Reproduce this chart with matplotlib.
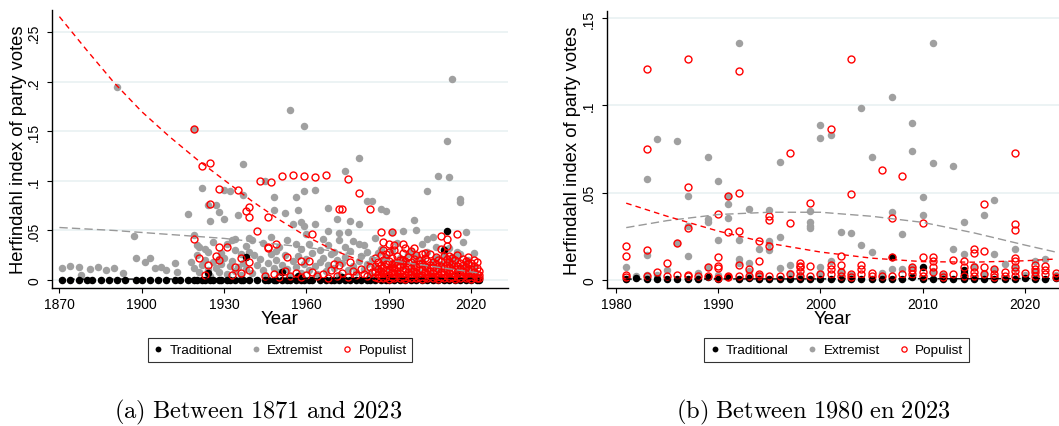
import matplotlib
matplotlib.use("Agg")
import matplotlib.pyplot as plt
from matplotlib.lines import Line2D

plt.rcParams['font.family'] = ['Liberation Sans', 'DejaVu Sans']

# ---------------- Panel (a): 1871-2023 ----------------
trad_a = [(1871,0),(1874,0),(1877,0),(1880,0),(1882,0),(1885,0),(1888,0),(1891,0),(1894,0),(1898,0),
          (1900,0),(1903,0),(1906,0),(1909,0),(1912,0),(1914,0),(1917,0),(1919,0),(1920,0),(1922,0),
          (1923,0),(1925,0),(1926,0),(1928,0),(1929,0),(1931,0),(1932,0),(1934,0),(1936,0),(1937,0),
          (1939,0),(1942,0),(1945,0),(1946,0),(1948,0),(1949,0),(1951,0),(1953,0),(1954,0),(1956,0),
          (1958,0),(1959,0),(1961,0),(1962,0),(1965,0),(1967,0),(1969,0),(1970,0),(1972,0),(1974,0),
          (1976,0),(1978,0),(1980,0),(1982,0),(1983,0),(1985,0),(1987,0),(1989,0),(1990,0),(1992,0),
          (1994,0),(1996,0),(1998,0),(2000,0),(2002,0),(2004,0),(2006,0),(2008,0),(2010,0),(2012,0),
          (2014,0),(2016,0),(2018,0),(2020,0),(2022,0),(2023,0),
          (1924,0.007),(1938,0.0235),(1951,0.008),(1957,0.004),(1973,0.003),(1990,0.003),(2000,0.004),
          (2010,0.030),(2011,0.049),(2015,0.005)]

ext_a = [(1871,0.012),(1874,0.0145),(1877,0.013),(1878,0.005),(1881,0.011),(1884,0.0135),(1887,0.010),
         (1890,0.012),(1891,0.195),(1893,0.0074),(1897,0.044),(1898,0.0225),(1901,0.0185),(1903,0.022),
         (1905,0.012),(1907,0.013),(1909,0.010),(1912,0.017),(1913,0.008),(1917,0.067),(1919,0.153),
         (1919,0.045),(1921,0.033),(1922,0.093),(1924,0.028),(1924,0.076),(1925,0.060),(1927,0.076),
         (1928,0.069),(1930,0.062),(1930,0.091),(1932,0.090),(1935,0.066),(1937,0.117),(1937,0.086),
         (1939,0.042),(1940,0.040),(1933,0.040),(1934,0.041),(1936,0.026),(1928,0.021),(1945,0.100),
         (1948,0.084),(1948,0.071),(1952,0.068),(1954,0.172),(1956,0.084),(1957,0.071),(1955,0.057),
         (1958,0.059),(1959,0.156),(1959,0.090),(1959,0.055),(1963,0.091),(1963,0.057),(1968,0.073),
         (1971,0.062),(1974,0.110),(1976,0.060),(1979,0.123),(1979,0.057),(1982,0.080),(1984,0.080),
         (1987,0.072),(1989,0.070),(1972,0.047),(1975,0.048),(1968,0.049),(1960,0.046),(1956,0.036),
         (1950,0.033),(1947,0.043),(1965,0.030),(1968,0.035),(1972,0.040),(1979,0.036),(1982,0.028),
         (1985,0.042),(1991,0.048),(1995,0.049),(1999,0.061),(2000,0.050),(2004,0.090),(2004,0.041),
         (2007,0.033),(2010,0.031),(2015,0.028),(2016,0.079),(2016,0.082),(2018,0.048),(2013,0.023),
         (2016,0.013),(2019,0.011),(2008,0.105),(2012,0.104),(2011,0.140),(2013,0.203),
         (1918,0.018),(1919,0.012),(1920,0.025),(1921,0.008),(1922,0.015),(1923,0.020),(1924,0.010),
         (1925,0.004),(1926,0.018),(1927,0.012),(1928,0.008),(1929,0.016),(1930,0.022),(1931,0.006),
         (1932,0.014),(1933,0.019),(1934,0.009),(1935,0.013),(1936,0.005),(1937,0.017),(1938,0.011),
         (1939,0.028),(1940,0.007),(1942,0.015),(1943,0.021),(1944,0.010),(1945,0.005),(1946,0.017),
         (1947,0.026),(1948,0.012),(1949,0.020),(1950,0.008),(1951,0.015),(1952,0.025),(1953,0.011),
         (1954,0.004),(1955,0.019),(1956,0.013),(1957,0.024),(1958,0.007),(1959,0.016),(1960,0.021),
         (1961,0.010),(1962,0.027),(1963,0.014),(1964,0.006),(1965,0.018),(1966,0.022),(1967,0.009),
         (1968,0.015),(1969,0.026),(1970,0.012),(1971,0.020),(1972,0.005),(1973,0.017),(1974,0.023),
         (1975,0.010),(1976,0.029),(1977,0.014),(1978,0.008),(1979,0.019),(1980,0.024),(1981,0.011),
         (1982,0.016),(1983,0.006),(1984,0.021),(1985,0.013),(1986,0.027),(1987,0.009),(1988,0.018),
         (1989,0.023),(1990,0.012),(1991,0.030),(1992,0.016),(1993,0.007),(1994,0.022),(1995,0.014),
         (1996,0.019),(1997,0.026),(1998,0.010),(1999,0.017),(2000,0.024),(2001,0.008),(2002,0.020),
         (2003,0.013),(2004,0.028),(2005,0.006),(2006,0.018),(2007,0.022),(2008,0.011),(2009,0.016),
         (2010,0.025),(2011,0.009),(2012,0.019),(2013,0.014),(2014,0.021),(2015,0.006),(2016,0.026),
         (2017,0.012),(2018,0.017),(2019,0.020),(2020,0.008),(2021,0.013),(2022,0.004),(2023,0.002),
         (1920,0.035),(1923,0.031),(1926,0.038),(1929,0.027),(1931,0.036),(1934,0.030),(1938,0.034),
         (1941,0.025),(1944,0.037),(1949,0.029),(1953,0.040),(1958,0.031),(1961,0.036),(1966,0.041),
         (1970,0.028),(1974,0.033),(1977,0.039),(1981,0.035),(1987,0.031),(1993,0.037),(1998,0.029),
         (2002,0.036),(2006,0.043),(2012,0.032),(2017,0.038),(2021,0.027)]

pop_a = [(1919,0.153),(1922,0.115),(1925,0.118),(1928,0.092),(1935,0.091),(1943,0.100),(1947,0.099),
         (1951,0.105),(1955,0.106),(1959,0.105),(1963,0.104),(1967,0.106),(1975,0.102),(1979,0.088),
         (1925,0.077),(1939,0.074),(1938,0.070),(1939,0.064),(1942,0.049),(1946,0.064),(1919,0.041),
         (1921,0.022),(1924,0.015),(1923,0.005),(1928,0.033),(1927,0.024),(1928,0.020),(1931,0.033),
         (1933,0.005),(1934,0.013),(1936,0.022),(1936,0.007),(1939,0.0185),(1939,0.010),(1945,0.004),
         (1946,0.033),(1972,0.072),(1973,0.072),(1983,0.072),(1962,0.046),(1949,0.036),(1946,0.032),
         (1953,0.023),(1958,0.0195),(1961,0.0195),(1970,0.016),(1972,0.015),(1976,0.0185),(1987,0.048),
         (1988,0.030),(1988,0.038),(1991,0.048),(1990,0.036),(1992,0.035),(1992,0.030),(1995,0.036),
         (1996,0.032),(1999,0.032),(2002,0.026),(2003,0.027),(2009,0.044),(2011,0.041),(2012,0.024),
         (2015,0.046),(2009,0.031),(2011,0.034),(2019,0.017),(1991,0.016),(1995,0.020),
         (1948,0.006),(1950,0.003),(1952,0.009),(1954,0.004),(1956,0.007),(1958,0.003),(1960,0.005),
         (1962,0.008),(1964,0.004),(1966,0.006),(1968,0.002),(1969,0.010),(1971,0.004),(1973,0.007),
         (1975,0.003),(1977,0.009),(1978,0.005),(1980,0.011),(1981,0.006),(1982,0.004),(1983,0.013),
         (1984,0.008),
         (1985,0.003),(1985,0.008),(1985,0.014),(1985,0.022),(1986,0.002),(1986,0.006),(1986,0.011),
         (1986,0.018),(1987,0.004),(1987,0.009),(1987,0.015),(1987,0.025),(1988,0.002),(1988,0.007),
         (1988,0.012),(1988,0.020),(1989,0.003),(1989,0.010),(1989,0.016),(1989,0.026),(1990,0.001),
         (1990,0.005),(1990,0.011),(1990,0.019),(1990,0.028),(1991,0.003),(1991,0.008),(1991,0.013),
         (1991,0.022),(1992,0.002),(1992,0.006),(1992,0.012),(1992,0.017),(1993,0.004),(1993,0.009),
         (1993,0.015),(1993,0.024),(1994,0.002),(1994,0.007),(1994,0.013),(1994,0.020),(1995,0.003),
         (1995,0.010),(1995,0.016),(1995,0.027),(1996,0.001),(1996,0.005),(1996,0.011),(1996,0.019),
         (1997,0.003),(1997,0.008),(1997,0.014),(1997,0.023),(1998,0.002),(1998,0.006),(1998,0.012),
         (1998,0.018),(1998,0.029),(1999,0.004),(1999,0.009),(1999,0.015),(1999,0.021),(2000,0.002),
         (2000,0.007),(2000,0.013),(2000,0.025),(2001,0.003),(2001,0.010),(2001,0.016),(2001,0.020),
         (2002,0.001),(2002,0.005),(2002,0.011),(2002,0.017),(2003,0.003),(2003,0.008),(2003,0.014),
         (2003,0.022),(2004,0.002),(2004,0.006),(2004,0.012),(2004,0.019),(2005,0.004),(2005,0.009),
         (2005,0.015),(2005,0.026),(2006,0.002),(2006,0.007),(2006,0.013),(2006,0.018),(2007,0.003),
         (2007,0.010),(2007,0.016),(2007,0.023),(2008,0.001),(2008,0.005),(2008,0.011),(2008,0.020),
         (2009,0.003),(2009,0.008),(2009,0.014),(2009,0.019),(2010,0.002),(2010,0.006),(2010,0.012),
         (2010,0.024),(2011,0.004),(2011,0.009),(2011,0.015),(2011,0.021),(2012,0.002),(2012,0.007),
         (2012,0.013),(2012,0.018),(2013,0.003),(2013,0.010),(2013,0.016),(2013,0.022),(2014,0.001),
         (2014,0.005),(2014,0.011),(2014,0.020),(2015,0.003),(2015,0.008),(2015,0.014),(2015,0.025),
         (2016,0.002),(2016,0.006),(2016,0.012),(2016,0.017),(2017,0.004),(2017,0.009),(2017,0.015),
         (2017,0.021),(2018,0.002),(2018,0.007),(2018,0.013),(2018,0.019),(2019,0.003),(2019,0.010),
         (2019,0.016),(2019,0.023),(2020,0.001),(2020,0.005),(2020,0.011),(2020,0.017),(2021,0.003),
         (2021,0.008),(2021,0.014),(2021,0.020),(2022,0.002),(2022,0.006),(2022,0.012),(2022,0.018),
         (2023,0.002),(2023,0.005),(2023,0.009)]

fit_years_a = [1870, 1880, 1890, 1900, 1910, 1920, 1930, 1940, 1950, 1960, 1970, 1980, 1990, 2000, 2010, 2023]
fit_pop_a   = [0.266, 0.232, 0.199, 0.170, 0.145, 0.122, 0.101, 0.080, 0.061, 0.044, 0.030, 0.019, 0.011, 0.006, 0.003, 0.002]
fit_ext_a   = [0.053, 0.0515, 0.050, 0.048, 0.046, 0.044, 0.042, 0.039, 0.036, 0.033, 0.029, 0.025, 0.020, 0.016, 0.012, 0.007]
fit_trad_a  = [0.0008, 0.0008, 0.0009, 0.0009, 0.0010, 0.0010, 0.0011, 0.0011, 0.0012, 0.0012, 0.0013, 0.0013, 0.0014, 0.0014, 0.0015, 0.0015]

# ---------------- Panel (b): 1980-2023 ----------------
trad_b = [(1981,0.0005),(1982,0.001),(1983,0.0005),(1984,0.0005),(1985,0.0005),(1986,0.0005),(1987,0.0005),
          (1988,0.0005),(1989,0.0015),(1990,0.0005),(1991,0.0015),(1992,0.0005),(1993,0.001),(1994,0.0005),
          (1995,0.0005),(1996,0.0005),(1997,0.0005),(1998,0.0005),(1999,0.0005),(2000,0.0005),(2001,0.0005),
          (2002,0.0005),(2003,0.0005),(2004,0.0005),(2005,0.0005),(2006,0.0005),(2007,0.0005),(2008,0.0005),
          (2009,0.0015),(2010,0.0005),(2011,0.0005),(2012,0.0005),(2013,0.0005),(2014,0.0005),(2015,0.0005),
          (2016,0.0005),(2017,0.0005),(2018,0.0005),(2019,0.0005),(2020,0.001),(2021,0.0005),(2022,0.0005),
          (2023,0.001),(2007,0.013),(2010,0.0073),(2014,0.0059),(2014,0.004)]

ext_b = [(1981,0.0073),(1981,0.0005),(1983,0.058),(1983,0.0143),(1983,0.003),(1984,0.0808),(1985,0.0059),
         (1986,0.0796),(1986,0.021),(1987,0.048),(1987,0.0139),(1987,0.031),(1989,0.0703),(1989,0.035),
         (1989,0.0334),(1989,0.0073),(1990,0.0567),(1990,0.0231),(1991,0.048),(1991,0.0435),(1991,0.0355),
         (1992,0.136),(1992,0.023),(1992,0.012),(1992,0.010),(1993,0.0405),(1993,0.0096),(1994,0.0177),
         (1995,0.0401),(1995,0.0226),(1995,0.0214),(1995,0.017),(1996,0.0678),(1996,0.0248),(1996,0.007),
         (1997,0.0086),(1999,0.0397),(1999,0.0334),(1999,0.0311),(1999,0.0296),(2000,0.0888),(2000,0.0814),
         (2000,0.0073),(2001,0.0833),(2001,0.011),(2002,0.0273),(2003,0.0269),(2004,0.0984),(2004,0.020),
         (2005,0.0707),(2005,0.0162),(2006,0.004),(2007,0.1047),(2007,0.0388),(2007,0.006),(2008,0.0264),
         (2009,0.090),(2009,0.0739),(2009,0.0073),(2010,0.0474),(2010,0.0372),(2011,0.136),(2011,0.0668),
         (2013,0.0655),(2013,0.018),(2014,0.033),(2014,0.0149),(2016,0.0372),(2017,0.046),(2017,0.0149),
         (2019,0.018),(2021,0.011),(2022,0.012),
         (1982,0.002),(1984,0.003),(1988,0.004),(1990,0.003),(1993,0.005),(1994,0.003),(1997,0.004),
         (1998,0.003),(2000,0.004),(2002,0.005),(2003,0.003),(2006,0.002),(2008,0.006),(2011,0.005),
         (2012,0.003),(2015,0.008),(2016,0.004),(2017,0.006),(2018,0.009),(2019,0.007),(2020,0.003),
         (2021,0.005),(2023,0.003)]

pop_b = [(1983,0.1207),(1987,0.1265),(1992,0.120),(1983,0.075),(1987,0.053),(1991,0.048),(1992,0.0497),
         (1997,0.0726),(2001,0.0865),(2003,0.1266),(2006,0.0628),(2008,0.0598),(2019,0.0730),(2003,0.0491),
         (1981,0.0197),(1981,0.0139),(1981,0.0029),(1983,0.0172),(1984,0.0044),(1985,0.0097),(1986,0.021),
         (1986,0.003),(1987,0.0298),(1987,0.003),(1988,0.002),(1990,0.0376),(1990,0.0134),(1990,0.008),
         (1990,0.007),(1990,0.001),(1991,0.0273),(1992,0.0283),(1992,0.0086),(1993,0.0063),(1994,0.0222),
         (1994,0.011),(1995,0.0366),(1995,0.0343),(1995,0.0195),(1997,0.0327),(1998,0.008),(1998,0.0097),
         (1998,0.0073),(1998,0.0054),(1999,0.044),(1999,0.008),(2001,0.0086),(2001,0.0063),(2002,0.0139),
         (2002,0.0086),(2004,0.0086),(2004,0.006),(2005,0.004),(2007,0.0355),(2007,0.013),(2009,0.0055),
         (2010,0.0325),(2010,0.013),(2011,0.013),(2011,0.011),(2013,0.0117),(2014,0.011),(2015,0.0177),
         (2015,0.0153),(2016,0.0435),(2016,0.0166),(2019,0.0321),(2019,0.0287),(2019,0.0125),(2019,0.0108),
         (2020,0.004),(2021,0.0086),(2021,0.0063),(2022,0.008),(2022,0.0057),(2023,0.004),
         (1981,0.0015),(1983,0.0025),(1985,0.0025),(1987,0.0025),(1989,0.0073),(1989,0.0025),(1991,0.0025),
         (1991,0.0015),(1992,0.0025),(1993,0.0025),(1994,0.0034),(1994,0.0025),(1995,0.0025),(1996,0.0025),
         (1997,0.0034),(1998,0.0023),(1999,0.0025),(2000,0.0034),(2001,0.0034),(2002,0.0044),(2002,0.0025),
         (2003,0.0034),(2003,0.0015),(2004,0.0034),(2005,0.0025),(2006,0.0025),(2007,0.0025),(2008,0.0034),
         (2009,0.0073),(2009,0.0034),(2010,0.0044),(2010,0.0025),(2011,0.0073),(2011,0.0044),(2012,0.0034),
         (2012,0.0015),(2013,0.0034),(2014,0.0073),(2014,0.0025),(2015,0.0073),(2015,0.0044),(2015,0.0025),
         (2016,0.0073),(2016,0.0034),(2017,0.0063),(2017,0.0034),(2017,0.0015),(2018,0.0044),(2018,0.0025),
         (2019,0.0073),(2019,0.0054),(2019,0.0025),(2021,0.0044),(2021,0.0025),(2022,0.0034),(2023,0.0015)]

fit_years_b = [1981, 1985, 1990, 1995, 2000, 2005, 2010, 2015, 2020, 2023]
fit_pop_b   = [0.044, 0.0365, 0.028, 0.021, 0.016, 0.0125, 0.0105, 0.0102, 0.011, 0.012]
fit_ext_b   = [0.030, 0.034, 0.0375, 0.0388, 0.0388, 0.0365, 0.033, 0.027, 0.020, 0.016]
fit_trad_b  = [0.0005, 0.0005, 0.0006, 0.0006, 0.0006, 0.0007, 0.0007, 0.0007, 0.0008, 0.0008]

xticks_a = [1870, 1900, 1930, 1960, 1990, 2020]
yticks_a = [0, 0.05, 0.1, 0.15, 0.2, 0.25]
yticklabels_a = ['0', '.05', '.1', '.15', '.2', '.25']
xticks_b = [1980, 1990, 2000, 2010, 2020]
yticks_b = [0, 0.05, 0.1, 0.15]
yticklabels_b = ['0', '.05', '.1', '.15']
series_names = ['Traditional', 'Extremist', 'Populist']
captions = [r'$\mathrm{(a)\ Between\ 1871\ and\ 2023}$', r'$\mathrm{(b)\ Between\ 1980\ en\ 2023}$']

GREY = '#a0a0a0'
RED = '#ff0000'
GRID = '#eaf2f3'
W, H = 1059, 427

fig = plt.figure(figsize=(W / 100, H / 100), dpi=100)


def draw_panel(rect, trad, ext, pop, fy, fp, fe, ft, xlim, ylim, xticks, yticks, yl, ylab_x):
    ax = fig.add_axes(rect)
    ax.set_xlim(*xlim)
    ax.set_ylim(*ylim)
    for s in ['top', 'right']:
        ax.spines[s].set_visible(False)
    for s in ['left', 'bottom']:
        ax.spines[s].set_linewidth(1.0)
        ax.spines[s].set_color('black')
    ax.set_xticks(xticks)
    ax.set_yticks(yticks)
    ax.set_yticklabels(yl, rotation=90, va='center')
    ax.tick_params(axis='both', length=3.8, width=0.8, labelsize=10, color='black')
    ax.tick_params(axis='y', pad=4)
    ax.tick_params(axis='x', pad=3)
    ax.yaxis.grid(True, color=GRID, lw=1.3)
    ax.set_axisbelow(True)

    ax.plot([p[0] for p in ext], [p[1] for p in ext], 'o', ms=5.4, mfc=GREY, mec=GREY, mew=0, zorder=2)
    ax.plot([p[0] for p in trad], [p[1] for p in trad], 'o', ms=5.4, mfc='black', mec='black', mew=0, zorder=3)
    ax.plot([p[0] for p in pop], [p[1] for p in pop], 'o', ms=5.0, mfc='none', mec=RED, mew=1.0, zorder=4)

    ax.plot(fy, ft, color='black', lw=1.0, dashes=(4, 3), zorder=5)
    ax.plot(fy, fe, color='#999999', lw=1.0, dashes=(6, 3), zorder=5)
    ax.plot(fy, fp, color=RED, lw=1.0, dashes=(4, 3), zorder=5)

    ax.set_ylabel('Herfindahl index of party votes', fontsize=13.2, va='center')
    ax.yaxis.set_label_coords(ylab_x, 0.5)
    ax.set_xlabel('Year', fontsize=13.5, va='baseline')
    ax.xaxis.set_label_coords(0.5, -0.126)
    return ax


ax_a = draw_panel([52 / W, 1 - 289 / H, 456 / W, 278 / H], trad_a, ext_a, pop_a,
                  fit_years_a, fit_pop_a, fit_ext_a, fit_trad_a,
                  (1867.3, 2033.4), (-0.0081, 0.2727), xticks_a, yticks_a, yticklabels_a, -0.074)
ax_b = draw_panel([607 / W, 1 - 289 / H, 452 / W, 277 / H], trad_b, ext_b, pop_b,
                  fit_years_b, fit_pop_b, fit_ext_b, fit_trad_b,
                  (1979.12, 2023.33), (-0.0046, 0.1541), xticks_b, yticks_b, yticklabels_b, -0.076)

handles = [
    Line2D([], [], ls='none', marker='o', ms=4.2, mfc='black', mec='black', mew=0),
    Line2D([], [], ls='none', marker='o', ms=4.2, mfc=GREY, mec=GREY, mew=0),
    Line2D([], [], ls='none', marker='o', ms=3.8, mfc='none', mec=RED, mew=0.9),
]
for cx in [280, 836.5]:
    leg = fig.legend(handles, series_names, loc='center', bbox_to_anchor=(cx / W, 1 - 351 / H),
                     ncol=3, fontsize=9.7, frameon=True, fancybox=False, edgecolor='black',
                     handlelength=0.7, handletextpad=0.5, columnspacing=1.4, borderpad=0.4,
                     borderaxespad=0)
    leg.get_frame().set_linewidth(0.8)

for cx, txt in zip([258, 813], captions):
    fig.text(cx / W, 1 - 418 / H, txt, math_fontfamily='cm', fontsize=17.6, ha='center', va='baseline')

fig.savefig('out.png', dpi=100)
